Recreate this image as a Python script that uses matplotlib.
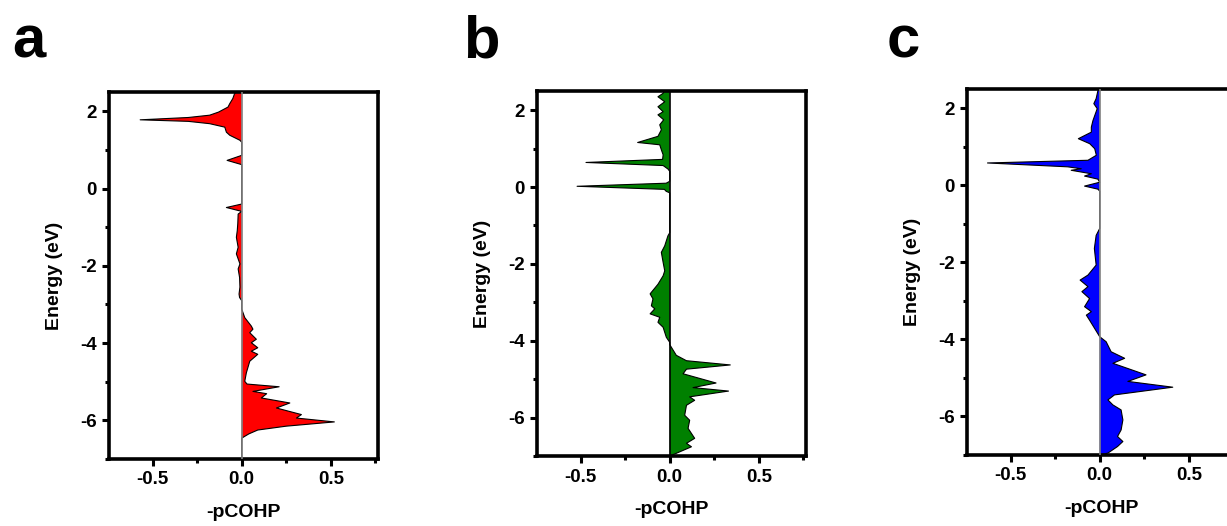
import matplotlib
matplotlib.use("Agg")
import matplotlib.pyplot as plt
from matplotlib.ticker import MultipleLocator

plt.rcParams['font.family'] = ['Liberation Sans', 'DejaVu Sans']
plt.rcParams['font.weight'] = 'bold'

# ---------------- data (energy in eV, -pCOHP values) ----------------
energy_a = [2.5, 2.46, 2.33, 2.2, 2.11, 1.98, 1.9, 1.84, 1.78, 1.74, 1.68, 1.59, 1.46, 1.38, 1.25, 1.2,
            0.86, 0.73, 0.62,
            -0.4, -0.49, -0.59, -0.66, -0.9, -1.09, -1.26, -1.52, -1.69, -1.95, -2.08, -2.3, -2.55, -2.73, -2.82, -2.9,
            -3.12, -3.34, -3.56, -3.64, -3.73, -3.9, -3.99, -4.12, -4.21, -4.29, -4.47, -4.77, -4.99,
            -5.06, -5.13, -5.25, -5.31, -5.42, -5.55, -5.68, -5.85, -5.94, -6.04, -6.15, -6.25, -6.35, -6.46, -7.0]
pcohp_a = [-0.03, -0.04, -0.05, -0.067, -0.077, -0.13, -0.18, -0.3, -0.57, -0.3, -0.18, -0.095, -0.086, -0.067, -0.01, 0.0,
           0.0, -0.082, 0.0,
           0.0, -0.086, 0.0, -0.02, -0.022, -0.025, -0.03, -0.02, -0.03, -0.01, -0.02, -0.012, -0.01, -0.015, -0.012, 0.0,
           0.0, 0.017, 0.054, 0.063, 0.045, 0.082, 0.054, 0.09, 0.054, 0.09, 0.045, 0.026, 0.017,
           0.03, 0.21, 0.063, 0.14, 0.11, 0.27, 0.195, 0.335, 0.307, 0.52, 0.25, 0.09, 0.04, 0.0, 0.0]

energy_b = [2.5, 2.44, 2.35, 2.22, 2.09, 1.96, 1.88, 1.75, 1.62, 1.49, 1.32, 1.16, 1.1, 0.97, 0.84, 0.72, 0.64, 0.56,
            0.47, 0.41, 0.15, 0.1, 0.02, -0.06, -0.11, -0.15,
            -1.19, -1.27, -1.53, -1.7, -1.96, -2.18, -2.31, -2.53, -2.78, -2.91, -3.09, -3.17, -3.3, -3.39, -3.52,
            -3.65, -3.91, -4.04, -4.1, -4.38, -4.52, -4.63, -4.74, -4.86, -5.1, -5.22, -5.31, -5.46, -5.55, -5.68,
            -5.94, -6.07, -6.28, -6.54, -6.67, -6.76, -6.93, -7.0]
pcohp_b = [-0.03, -0.037, -0.066, -0.028, -0.066, -0.037, -0.066, -0.034, -0.056, -0.047, -0.066, -0.18, -0.056,
           -0.047, -0.037, -0.04, -0.47, -0.037,
           -0.01, 0.0, 0.0, -0.02, -0.52, -0.03, -0.02, 0.0,
           0.0, -0.01, -0.028, -0.047, -0.037, -0.028, -0.037, -0.066, -0.11, -0.094, -0.103, -0.084, -0.11, -0.056,
           -0.066, -0.037, -0.019, 0.0, 0.0, 0.037, 0.094, 0.34, 0.094, 0.075, 0.26, 0.131, 0.33, 0.112, 0.14, 0.094,
           0.084, 0.112, 0.103, 0.14, 0.094, 0.122, 0.037, 0.0]

energy_c = [2.5, 2.46, 2.25, 2.12, 1.99, 1.68, 1.51, 1.38, 1.21, 1.08, 0.95, 0.78, 0.65, 0.58, 0.48, 0.43, 0.39,
            0.3, 0.24, 0.16, 0.08, -0.02, -0.1, -0.15,
            -1.12, -1.3, -1.64, -2.07, -2.33, -2.46, -2.63, -2.76, -2.94, -3.15, -3.28, -3.37, -3.5, -3.93,
            -4.06, -4.32, -4.49, -4.62, -4.92, -5.09, -5.24, -5.44, -5.57, -5.7, -5.83, -6.09, -6.35, -6.52,
            -6.65, -6.78, -6.95, -7.0]
pcohp_c = [-0.005, -0.01, -0.02, -0.033, -0.014, -0.038, -0.047, -0.047, -0.12, -0.056, -0.028, -0.019, -0.066,
           -0.63, -0.18, -0.104, -0.16, -0.047, -0.085, -0.01, 0.0, -0.085, -0.01, 0.0,
           0.0, -0.02, -0.03, -0.02, -0.066, -0.11, -0.066, -0.1, -0.057, -0.085, -0.047, -0.075, -0.057, 0.0,
           0.036, 0.064, 0.14, 0.074, 0.26, 0.158, 0.41, 0.083, 0.046, 0.074, 0.12, 0.13, 0.12, 0.1,
           0.13, 0.1, 0.046, 0.0]

panel_letters = ['a', 'b', 'c']
fill_colors = ['#ff0000', '#008000', '#0000ff']
zero_colors = ['#808080', '#000000', '#808080']
x_ticks = [-0.5, 0.0, 0.5]
y_ticks = [-6, -4, -2, 0, 2]

# ---------------- figure ----------------
W, H = 1227, 526
fig = plt.figure(figsize=(W / 100, H / 100), dpi=100)

# axes boxes in pixels: left, top, right, bottom
boxes = [(109, 92, 378, 459), (537, 91, 806, 456), (967, 89, 1236, 455)]
letter_x = [12, 463, 887]

datasets = [(energy_a, pcohp_a), (energy_b, pcohp_b), (energy_c, pcohp_c)]

for i, (l, t, r, b) in enumerate(boxes):
    ax = fig.add_axes([l / W, 1 - b / H, (r - l) / W, (b - t) / H])
    E, v = datasets[i]
    ax.fill_betweenx(E, 0, v, facecolor=fill_colors[i], edgecolor='none', zorder=2)
    ax.plot(v, E, color='black', lw=0.8, zorder=3)
    ax.axvline(0, color=zero_colors[i], lw=1.2, zorder=4)
    ax.set_xlim(-0.745, 0.765)
    ax.set_ylim(-7, 2.5)
    ax.set_xticks(x_ticks)
    ax.set_xticklabels(['-0.5', '0.0', '0.5'])
    ax.set_yticks(y_ticks)
    ax.set_yticklabels([str(t_) for t_ in y_ticks])
    ax.xaxis.set_minor_locator(MultipleLocator(0.25))
    ax.yaxis.set_minor_locator(MultipleLocator(1))
    for s in ax.spines.values():
        s.set_linewidth(2.6)
    ax.tick_params(which='major', direction='out', length=5, width=2.2, labelsize=13.5, pad=4)
    ax.tick_params(which='minor', direction='out', length=3, width=2.2)
    ax.tick_params(top=False, right=False, which='both')
    for lab in ax.get_xticklabels() + ax.get_yticklabels():
        lab.set_fontweight('bold')
    ax.set_xlabel('-pCOHP', fontsize=14, fontweight='bold', labelpad=11)
    ax.set_ylabel('Energy (eV)', fontsize=14, fontweight='bold', labelpad=12)
    fig.text(letter_x[i] / W, 1 - 57 / H, panel_letters[i], fontsize=43, fontweight='bold',
             ha='left', va='baseline')

fig.savefig('out.png', dpi=100)
